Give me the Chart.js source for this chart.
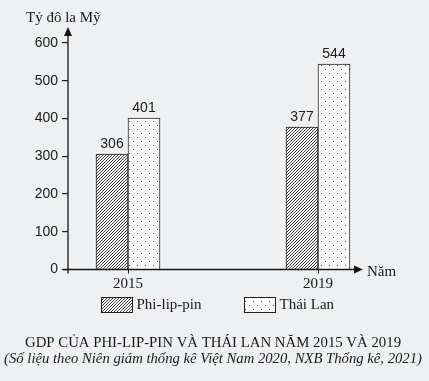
<!DOCTYPE html>
<html>
<head>
<meta charset="utf-8">
<script src="https://cdn.jsdelivr.net/npm/chart.js@4"></script>
<style>
  html, body { margin:0; padding:0; background:#eef0f2; }
  #wrap { width:429px; height:381px; }
</style>
</head>
<body>
<div id="wrap"><canvas id="c" width="429" height="381"></canvas></div>
<script>
const years = [2015, 2019];
const philippines = [306, 377];
const thailand = [401, 544];
const yTicks = [0, 100, 200, 300, 400, 500, 600];
const seriesNames = ['Phi-lip-pin', 'Thái Lan'];
const yAxisTitle = 'Tỷ đô la Mỹ';
const xAxisTitle = 'Năm';
const titleText = 'GDP CỦA PHI-LIP-PIN VÀ THÁI LAN NĂM 2015 VÀ 2019';
const subtitleText = '(Số liệu theo Niên giám thống kê Việt Nam 2020, NXB Thống kê, 2021)';

const SERIF = '"Liberation Serif", "DejaVu Serif", serif';
const SANS = '"Liberation Sans", Arial, sans-serif';

function hatchPattern() {
  const c = document.createElement('canvas');
  c.width = 3; c.height = 3;
  const g = c.getContext('2d');
  g.fillStyle = '#ffffff'; g.fillRect(0,0,3,3);
  g.fillStyle = '#3a3a3a';
  for (let i = 0; i < 3; i++) g.fillRect(i, 2 - i, 1, 1);
  return g.createPattern(c, 'repeat');
}
function dotPattern() {
  const c = document.createElement('canvas');
  c.width = 8; c.height = 8;
  const g = c.getContext('2d');
  g.fillStyle = '#ffffff'; g.fillRect(0,0,8,8);
  g.fillStyle = '#555555';
  g.fillRect(1,1,1,1);
  g.fillRect(5,5,1,1);
  return g.createPattern(c, 'repeat');
}
const hatch = hatchPattern();
const dots = dotPattern();

const extras = {
  id: 'extras',
  afterDraw(chart) {
    const ctx = chart.ctx;
    const ys = chart.scales.y;
    const x0 = ys.right, y0 = ys.getPixelForValue(0);
    ctx.save();
    ctx.strokeStyle = '#151515';
    ctx.fillStyle = '#151515';
    ctx.lineWidth = 1.3;
    // y axis
    ctx.beginPath();
    ctx.moveTo(x0, y0 + 4); ctx.lineTo(x0, 34); ctx.stroke();
    ctx.beginPath();
    ctx.moveTo(x0, 27); ctx.lineTo(x0 - 4, 36); ctx.lineTo(x0 + 4, 36); ctx.closePath(); ctx.fill();
    // x axis
    ctx.beginPath();
    ctx.moveTo(x0 - 5, y0); ctx.lineTo(356, y0); ctx.stroke();
    ctx.beginPath();
    ctx.moveTo(363, y0); ctx.lineTo(354, y0 - 4); ctx.lineTo(354, y0 + 4); ctx.closePath(); ctx.fill();

    // axis titles
    ctx.fillStyle = '#1a1a1a';
    ctx.font = '15px ' + SERIF;
    ctx.textBaseline = 'alphabetic';
    ctx.textAlign = 'left';
    ctx.fillText(yAxisTitle, 26, 22);
    ctx.textBaseline = 'middle';
    ctx.fillText(xAxisTitle, 367, y0 + 3);

    // value labels
    ctx.font = '14px ' + SANS;
    ctx.textAlign = 'center';
    ctx.textBaseline = 'bottom';
    chart.data.datasets.forEach((ds, di) => {
      const meta = chart.getDatasetMeta(di);
      meta.data.forEach((el, i) => {
        ctx.fillText(String(ds.data[i].y), el.x, el.y - 3);
      });
    });

    // legend
    const items = [
      {x: 101.5, fill: hatch, text: seriesNames[0]},
      {x: 244.5, fill: dots, text: seriesNames[1]}
    ];
    ctx.font = '15px ' + SERIF;
    ctx.textAlign = 'left';
    ctx.textBaseline = 'middle';
    items.forEach(it => {
      ctx.fillStyle = it.fill;
      ctx.fillRect(it.x, 297.5, 31, 15);
      ctx.strokeStyle = '#222'; ctx.lineWidth = 1;
      ctx.strokeRect(it.x, 297.5, 31, 15);
      ctx.fillStyle = '#1a1a1a';
      ctx.fillText(it.text, it.x + 35, 305);
    });
    ctx.restore();
  }
};

const toPts = arr => arr.map((v, i) => ({x: years[i], y: v}));

new Chart(document.getElementById('c'), {
  type: 'bar',
  data: {
    datasets: [
      { label: seriesNames[0], data: toPts(philippines), backgroundColor: hatch, borderColor: '#222', borderWidth: 1, barThickness: 32 },
      { label: seriesNames[1], data: toPts(thailand), backgroundColor: dots, borderColor: '#222', borderWidth: 1, barThickness: 32 }
    ]
  },
  options: {
    responsive: false,
    animation: false,
    layout: { padding: { top: 43, left: 0, right: 3, bottom: 0 } },
    scales: {
      x: {
        type: 'linear',
        offset: false,
        min: 2015 - 60 / 47.5,
        max: 2015 - 60 / 47.5 + (426 - 68) / 47.5,
        afterBuildTicks: s => { s.ticks = years.map(v => ({value: v})); },
        afterFit: s => { s.height = 20; },
        grid: { display: true, offset: false, drawOnChartArea: false, drawTicks: true, tickLength: 4, color: '#222' },
        border: { display: false },
        ticks: { font: { family: SERIF, size: 15 }, color: '#1a1a1a', padding: 2, autoSkip: false, maxRotation: 0,
                 callback: v => String(v) }
      },
      y: {
        min: 0, max: 600,
        afterBuildTicks: s => { s.ticks = yTicks.map(v => ({value: v})); },
        afterFit: s => { s.width = 68; },
        grid: { display: true, drawOnChartArea: false, drawTicks: true, tickLength: 6, color: '#222', lineWidth: 1.2 },
        border: { display: false },
        ticks: { font: { family: SANS, size: 14 }, color: '#1a1a1a', padding: 4 }
      }
    },
    plugins: {
      legend: { display: false },
      tooltip: { enabled: false },
      title: {
        display: true, position: 'bottom', text: titleText, weight: 1000,
        font: { family: SERIF, size: 14.8, weight: 'normal', lineHeight: 1 },
        color: '#1a1a1a', padding: { top: 46, bottom: 0 }
      },
      subtitle: {
        display: true, position: 'bottom', text: subtitleText, weight: 1500,
        font: { family: SERIF, size: 14.7, style: 'italic', lineHeight: 1 },
        color: '#1a1a1a', padding: { top: 1, bottom: 15 }
      }
    }
  },
  plugins: [extras]
});
</script>
</body>
</html>
